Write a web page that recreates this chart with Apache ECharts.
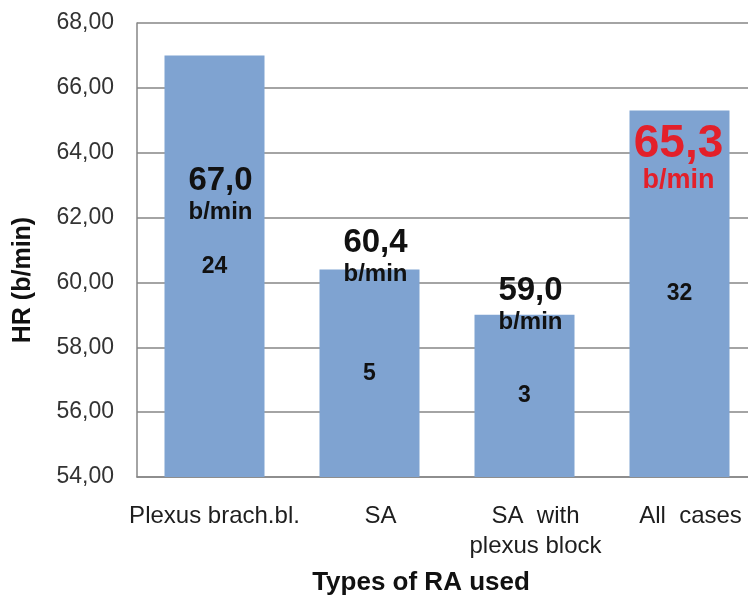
<!DOCTYPE html>
<html>
<head>
<meta charset="utf-8">
<style>
  html, body { margin: 0; padding: 0; background: #ffffff; }
  #chart { width: 748px; height: 597px; }
</style>
<script src="https://cdn.jsdelivr.net/npm/echarts@6/dist/echarts.min.js"></script>
</head>
<body>
<div id="chart"></div>
<script>
// Mean heart rate by type of regional anaesthesia
const categories = ['Plexus brach.bl.', 'SA', 'SA  with\nplexus block', 'All  cases'];
const heartRates = [67.0, 60.4, 59.0, 65.3];
const caseCounts = [24, 5, 3, 32];
const yTicks = { min: 54, max: 68, step: 2 };
const highlightIndex = 3;

const FONT = '"Liberation Sans", Arial, sans-serif';

// vertical placement of each value label, measured from the bar top (px)
const valueLabelTop = [107, -45, -42, 11];
const valueLabelX = ['56%', '56%', '56%', '49%'];

const fmt = (v, d) => v.toFixed(d).replace('.', ',');

const chart = echarts.init(document.getElementById('chart'), null, { renderer: 'canvas' });

const option = {
  animation: false,
  backgroundColor: '#ffffff',
  grid: {
    left: 137,
    top: 23,
    bottom: 120,
    width: 620,
    containLabel: false,
    outerBoundsMode: 'none'
  },
  xAxis: {
    type: 'category',
    data: categories.map((c, i) => ({
      value: c,
      textStyle: i === 0 ? {} : { padding: [0, 0, 0, 22] }
    })),
    axisLine: { show: true, lineStyle: { color: '#868686', width: 1.5 } },
    axisTick: { show: false },
    axisLabel: {
      interval: 0,
      margin: 24,
      color: '#1e1e1e',
      fontFamily: FONT,
      fontSize: 24,
      lineHeight: 30
    }
  },
  yAxis: {
    type: 'value',
    min: yTicks.min,
    max: yTicks.max,
    interval: yTicks.step,
    axisLine: { show: true, lineStyle: { color: '#868686', width: 1.5 } },
    axisTick: { show: false },
    splitLine: { show: true, lineStyle: { color: '#868686', width: 1.5 } },
    axisLabel: {
      margin: 23,
      color: '#333333',
      fontFamily: FONT,
      fontSize: 23,
      formatter: v => fmt(v, 2)
    }
  },
  series: [
    {
      name: 'HR',
      type: 'bar',
      barWidth: 100,
      itemStyle: { color: '#7fa3d1' },
      data: heartRates.map((v, i) => ({
        value: v,
        label: {
          show: true,
          position: [valueLabelX[i], valueLabelTop[i]],
          align: 'center',
          verticalAlign: 'top'
        }
      })),
      label: {
        show: true,
        fontFamily: FONT,
        formatter: p => p.dataIndex === highlightIndex
          ? '{rv|' + fmt(p.value, 1) + '}\n{ru|b/min}'
          : '{v|' + fmt(p.value, 1) + '}\n{u|b/min}',
        rich: {
          v:  { fontFamily: FONT, fontSize: 33, fontWeight: 'bold', color: '#111111', lineHeight: 36, align: 'center' },
          u:  { fontFamily: FONT, fontSize: 24, fontWeight: 'bold', color: '#111111', lineHeight: 28, align: 'center' },
          rv: { fontFamily: FONT, fontSize: 46, fontWeight: 'bold', color: '#e3202a', lineHeight: 45, align: 'center' },
          ru: { fontFamily: FONT, fontSize: 27, fontWeight: 'bold', color: '#e3202a', lineHeight: 28, align: 'center' }
        }
      },
      z: 2
    },
    {
      name: 'Cases',
      type: 'bar',
      barWidth: 100,
      barGap: '-100%',
      itemStyle: { color: 'rgba(0,0,0,0)' },
      data: heartRates,
      label: {
        show: true,
        position: 'inside',
        fontFamily: FONT,
        fontSize: 23,
        fontWeight: 'bold',
        color: '#111111',
        formatter: p => String(caseCounts[p.dataIndex])
      },
      silent: true,
      z: 3
    }
  ],
  graphic: [
    {
      type: 'text',
      x: 421,
      y: 583,
      style: {
        text: 'Types of RA used',
        font: 'bold 26px ' + FONT,
        fill: '#111111',
        align: 'center',
        verticalAlign: 'middle'
      }
    },
    {
      type: 'text',
      x: 23,
      y: 280,
      rotation: Math.PI / 2,
      style: {
        text: 'HR (b/min)',
        font: 'bold 25px ' + FONT,
        fill: '#111111',
        align: 'center',
        verticalAlign: 'middle'
      }
    }
  ]
};

chart.setOption(option);
</script>
</body>
</html>
